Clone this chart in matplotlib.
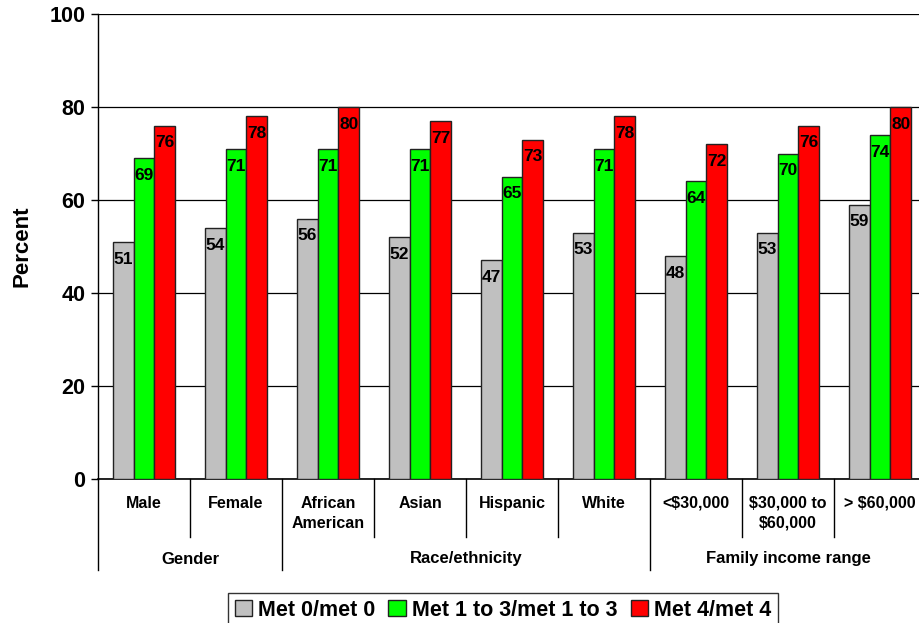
import matplotlib
matplotlib.use('Agg')
import matplotlib.pyplot as plt
import matplotlib.transforms as mtransforms
import numpy as np

plt.rcParams['font.family'] = ['Liberation Sans', 'DejaVu Sans']
plt.rcParams['font.weight'] = 'bold'

CATEGORIES = ['Male', 'Female', 'African\nAmerican', 'Asian', 'Hispanic',
              'White', '<$30,000', '$30,000 to\n$60,000', '> $60,000']
GROUPS = ['Gender', 'Race/ethnicity', 'Family income range']
GROUP_SIZES = [2, 4, 3]

SERIES = ['Met 0/met 0', 'Met 1 to 3/met 1 to 3', 'Met 4/met 4']
MET_0 = [51, 54, 56, 52, 47, 53, 48, 53, 59]
MET_1_3 = [69, 71, 71, 71, 65, 71, 64, 70, 74]
MET_4 = [76, 78, 80, 77, 73, 78, 72, 76, 80]
COLORS = ['#c0c0c0', '#00ff00', '#ff0000']

fig = plt.figure(figsize=(9.19, 6.23), dpi=100)
ax = fig.add_axes([98 / 919, 1 - 479 / 623, (926 - 98) / 919, 465 / 623])

x = np.arange(len(CATEGORIES))
width = 0.228
for k, (vals, col, name) in enumerate(zip([MET_0, MET_1_3, MET_4], COLORS, SERIES)):
    pos = x + (k - 1) * width
    bars = ax.bar(pos, vals, width, color=col, edgecolor='#222222',
                  linewidth=1.0, label=name, zorder=3)
    for b, v in zip(bars, vals):
        ax.annotate(f'{v}', (b.get_x() + b.get_width() / 2, v),
                    xytext=(0, -7), textcoords='offset points',
                    ha='center', va='top', fontsize=12.5, fontweight='bold',
                    zorder=4)

ax.set_xlim(-0.5, len(CATEGORIES) - 0.5)
ax.set_ylim(0, 100)
ax.set_yticks(range(0, 101, 20))
ax.tick_params(axis='y', labelsize=15.5, length=5, width=1, direction='out', pad=4)
ax.set_xticks([])
ax.yaxis.grid(True, color='black', lw=0.9, zorder=0)
for s in ['top', 'right']:
    ax.spines[s].set_visible(False)
ax.spines['left'].set_linewidth(1)
ax.spines['bottom'].set_linewidth(1.2)
ax.set_ylabel('Percent', fontsize=16, fontweight='bold', labelpad=12)

# Two-level category axis below the plot
trans = mtransforms.blended_transform_factory(ax.transData, ax.transAxes)
inner_bottom = -(537 - 479) / 465
outer_bottom = -(570 - 479) / 465
group_edges = np.cumsum([0] + GROUP_SIZES) - 0.5
for i in range(len(CATEGORIES) + 1):
    edge = i - 0.5
    bottom = outer_bottom if np.any(np.isclose(group_edges, edge)) else inner_bottom
    if edge > len(CATEGORIES) - 1:
        continue
    ax.plot([edge, edge], [0, bottom], color='black', lw=1, transform=trans,
            clip_on=False)
for i, lab in enumerate(CATEGORIES):
    ax.text(i, -(496 - 479) / 465, lab.replace('$', r'\$'), transform=trans,
            ha='center', va='top', fontsize=11.5, fontweight='bold',
            linespacing=1.4)
for g, name in enumerate(GROUPS):
    mid = (group_edges[g] + group_edges[g + 1]) / 2
    ax.text(mid, -(559 - 479) / 465, name, transform=trans, ha='center',
            va='center', fontsize=12, fontweight='bold')

leg = fig.legend(loc='lower center', bbox_to_anchor=(503 / 919, -0.01), ncol=3,
                 fontsize=15.5, frameon=True, fancybox=False, edgecolor='black',
                 handlelength=0.8, handleheight=0.8, handletextpad=0.3,
                 columnspacing=0.6, borderpad=0.3, borderaxespad=0.1)
leg.get_frame().set_linewidth(1)

fig.savefig('out.png', dpi=100)
